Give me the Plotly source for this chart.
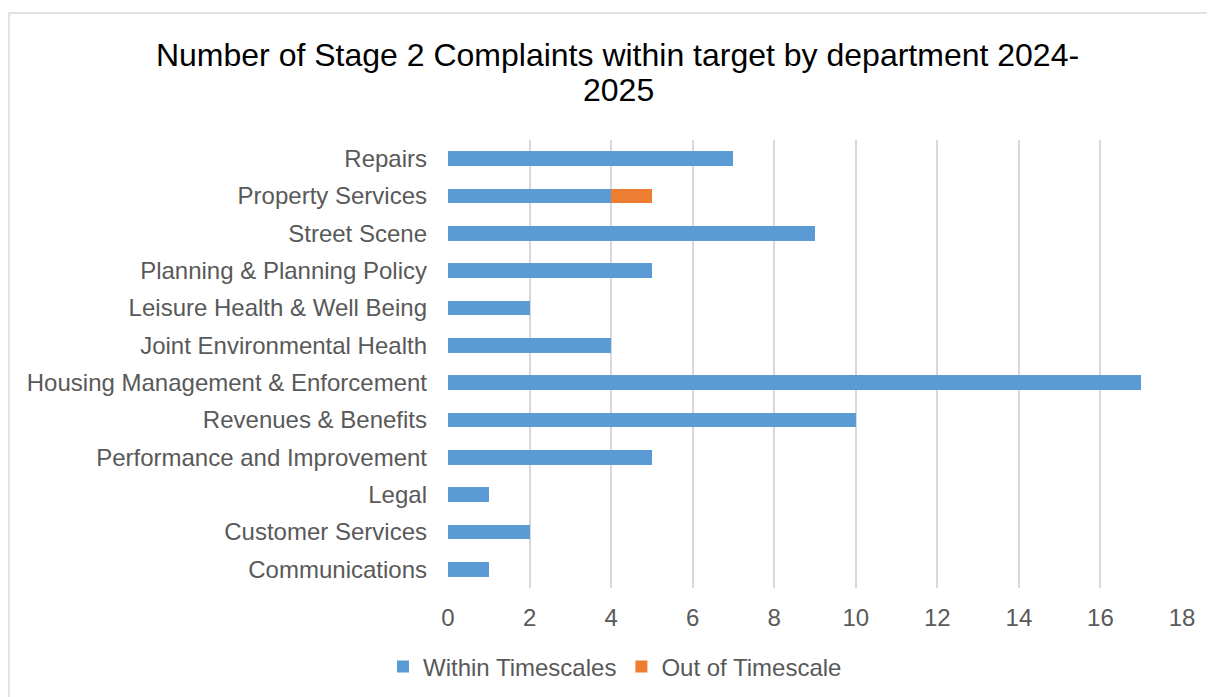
import plotly.graph_objects as go

departments = ["Repairs", "Property Services", "Street Scene", "Planning & Planning Policy",
               "Leisure Health & Well Being", "Joint Environmental Health",
               "Housing Management & Enforcement", "Revenues & Benefits",
               "Performance and Improvement", "Legal", "Customer Services", "Communications"]
within = [7, 4, 9, 5, 2, 4, 17, 10, 5, 1, 2, 1]
out_of = [0, 1, 0, 0, 0, 0, 0, 0, 0, 0, 0, 0]
x_ticks = [0, 2, 4, 6, 8, 10, 12, 14, 16, 18]
title_line1 = "Number of Stage 2 Complaints within target by department 2024-"
title_line2 = "2025"

fig = go.Figure()
fig.add_trace(go.Bar(y=departments, x=within, orientation="h", name="Within Timescales",
                     marker=dict(color="#5B9BD5", line=dict(width=0))))
fig.add_trace(go.Bar(y=departments, x=out_of, orientation="h", name="Out of Timescale",
                     marker=dict(color="#ED7D31", line=dict(width=0))))

# page has an 8px body margin, so figure coords = window coords - 8
W, H = 1207, 689
L, R, T, B = 440, 33, 132, 109
pw, ph = W - L - R, H - T - B

fig.update_layout(
    width=W, height=H, barmode="stack", bargap=0.6,
    paper_bgcolor="white", plot_bgcolor="white",
    margin=dict(l=L, r=R, t=T, b=B, autoexpand=False),
    font=dict(family="Liberation Sans, Arial, sans-serif", color="#595959", size=24),
    title=dict(text=title_line1, x=0.505, xanchor="center", y=1 - 47 / H, yanchor="middle",
               font=dict(size=32, color="#000000")),
    annotations=[dict(text=title_line2, xref="paper", yref="paper",
                      x=(610 - L) / pw, y=(T + ph - 82) / ph, xanchor="center", yanchor="middle",
                      showarrow=False, font=dict(size=32, color="#000000"))],
    xaxis=dict(range=[0, 18], tickvals=x_ticks, showgrid=True, gridcolor="#D9D9D9",
               gridwidth=1.5, zeroline=False, showline=False, ticks="", automargin=False,
               ticklabelstandoff=13, tickfont=dict(size=24, color="#595959")),
    yaxis=dict(categoryorder="array", categoryarray=departments[::-1], autorange=True,
               showgrid=False, zeroline=False, showline=False, ticks="", automargin=False,
               ticklabelstandoff=20, tickfont=dict(size=24, color="#595959")),
    legend=dict(orientation="h", x=(607 - L) / pw, xanchor="center",
                y=(T + ph - 659) / ph, yanchor="middle",
                font=dict(size=24, color="#595959"), traceorder="normal"),
    shapes=[dict(type="rect", xref="paper", yref="paper",
                 x0=(1 - L) / pw, x1=(W + 20 - L) / pw,
                 y0=(T + ph - (H + 20)) / ph, y1=(T + ph - 5) / ph,
                 line=dict(color="#D9D9D9", width=1.5), fillcolor="rgba(0,0,0,0)", layer="below")],
)
fig.write_html("out.html")
